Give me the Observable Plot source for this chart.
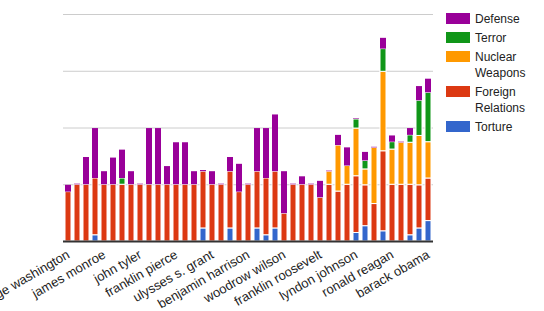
<!DOCTYPE html>
<html>
<head>
<meta charset="utf-8">
<script src="https://cdn.jsdelivr.net/npm/d3@7"></script>
<script src="https://cdn.jsdelivr.net/npm/@observablehq/plot@0.6"></script>
<style>
  body { margin: 0; background: #fff; font-family: "Liberation Sans", Arial, sans-serif; }
  #wrap { position: relative; width: 544px; height: 311px; }
  #legend { position: absolute; left: 446px; top: 0; font-size: 12px; color: #222; }
  .item { position: absolute; left: 0; white-space: nowrap; }
  .sw { position: absolute; left: 0; width: 24px; height: 11px; }
  .lbl { position: absolute; left: 29px; line-height: 16px; }
</style>
</head>
<body>
<div id="wrap"></div>
<script>
const presidents = ["george washington","john adams","thomas jefferson","james madison","james monroe","john quincy adams","andrew jackson","martin van buren","john tyler","james polk","zachary taylor","millard fillmore","franklin pierce","james buchanan","abraham lincoln","andrew johnson","ulysses s. grant","rutherford b. hayes","chester a. arthur","grover cleveland","benjamin harrison","william mckinley","theodore roosevelt","william howard taft","woodrow wilson","warren harding","calvin coolidge","herbert hoover","franklin roosevelt","harry s. truman","dwight d. eisenhower","john f. kennedy","lyndon johnson","richard nixon","gerald ford","jimmy carter","ronald reagan","george h. w. bush","bill clinton","george w. bush","barack obama"];

const categories = ["Torture","Foreign Relations","Nuclear Weapons","Terror","Defense"];
const colors = ["#3366cc","#dc3912","#ff9900","#109618","#990099"];

const torture = [0,0,0,0.11,0,0,0,0,0,0,0,0,0,0,0,0.23,0,0,0.23,0,0,0.23,0.11,0.23,0,0,0,0,0,0,0,0,0.15,0.27,0,0.18,0,0,0.11,0.23,0.36];
const foreign = [0.87,1,1,1,1,1,1,1,1,1,1,1,1,1,1,1,1,1,1,0.87,1,1,1,1,0.49,1,1,1,0.77,1,0.88,1,1,0.72,0.66,1.41,1,1,0.89,0.76,0.75];
const nuclear = [0,0,0,0,0,0,0,0,0,0,0,0,0,0,0,0,0,0,0,0,0,0,0,0,0,0,0,0,0,0.23,0.81,0.33,0.84,0.28,0.99,1.40,0.62,0.74,0.74,0.87,0.64];
const terror = [0,0,0,0,0,0,0.11,0,0,0,0,0,0,0,0,0,0,0,0,0,0,0,0,0,0,0,0,0,0,0,0,0,0.16,0.15,0,0.40,0.13,0,0.13,0.62,0.87];
const defense = [0.12,0.01,0.48,0.88,0.23,0.47,0.50,0.23,0.01,0.99,0.99,0.32,0.74,0.74,0.23,0.02,0.23,0.01,0.25,0.49,0.01,0.76,0.88,1.0,0.74,0.01,0.14,0.01,0.29,0.01,0.18,0.32,0.01,0.15,0.01,0.19,0.11,0.01,0.12,0.25,0.24];

const yTicks = [0,1,2,3,4];
const labeled = presidents.filter((d, i) => i % 4 === 0);

const series = [torture, foreign, nuclear, terror, defense];
const rows = [];
presidents.forEach((p, i) => {
  categories.forEach((c, k) => {
    const v = series[k][i];
    if (v > 0) rows.push({president: p, category: c, value: v});
  });
});

const chart = Plot.plot({
  width: 544,
  height: 311,
  marginLeft: 63,
  marginRight: 111,
  marginTop: 14,
  marginBottom: 70,
  style: {fontFamily: "'Liberation Sans', Arial, sans-serif", fontSize: "13px", color: "#222", background: "#fff"},
  x: {domain: presidents, paddingInner: 0.34, paddingOuter: 0.2, label: null},
  y: {domain: [0, 4], label: null},
  color: {domain: categories, range: colors},
  marks: [
    Plot.ruleY(yTicks.slice(1), {stroke: "#cccccc", strokeWidth: 1}),
    Plot.barY(rows, {
      x: "president", y: "value", fill: "category",
      stroke: "white", strokeWidth: 1,
      strokeOpacity: d => d.category === "Defense" ? 0 : 1
    }),
    Plot.ruleY([0], {stroke: "#333333", strokeWidth: 2}),
    Plot.axisY({ticks: [], label: null}),
    Plot.axisX({ticks: labeled, tickSize: 0, tickRotate: -30, tickPadding: 12, label: null, fontSize: 13, fill: "#222"})
  ]
});
document.getElementById("wrap").appendChild(chart);

const legendItems = [
  {name: ["Defense"], color: "#990099", top: 13},
  {name: ["Terror"], color: "#109618", top: 32},
  {name: ["Nuclear", "Weapons"], color: "#ff9900", top: 51},
  {name: ["Foreign", "Relations"], color: "#dc3912", top: 86},
  {name: ["Torture"], color: "#3366cc", top: 121}
];
const legend = document.createElement("div");
legend.id = "legend";
legendItems.forEach(it => {
  const item = document.createElement("div");
  item.className = "item";
  item.style.top = it.top + "px";
  const sw = document.createElement("div");
  sw.className = "sw";
  sw.style.background = it.color;
  item.appendChild(sw);
  const lbl = document.createElement("div");
  lbl.className = "lbl";
  lbl.style.top = "-2px";
  lbl.innerHTML = it.name.join("<br>");
  item.appendChild(lbl);
  legend.appendChild(item);
});
document.getElementById("wrap").appendChild(legend);
</script>
</body>
</html>
